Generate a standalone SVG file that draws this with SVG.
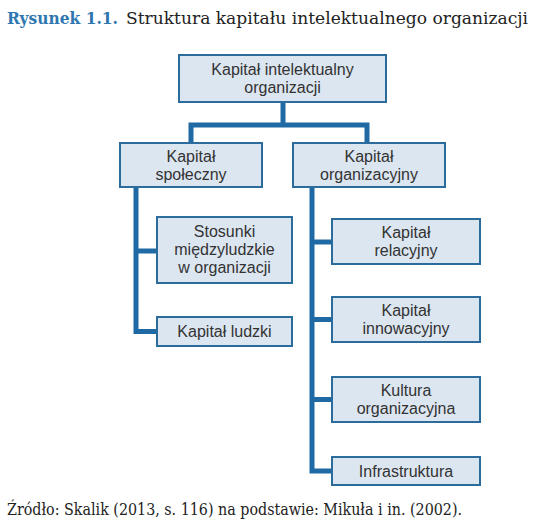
<svg xmlns="http://www.w3.org/2000/svg" width="538" height="527" viewBox="0 0 538 527">
<style>
.box{fill:#dce6f1;stroke:#2b6c9c;stroke-width:2}
.t{font-family:"Liberation Sans",Arial,sans-serif;font-size:16px;fill:#333;text-anchor:middle}
.c{fill:none;stroke:#1f6aa5;stroke-width:5;stroke-linejoin:miter}
.cap{font-family:"DejaVu Serif","Liberation Serif",serif;font-size:16px;fill:#222}
</style>
<rect width="538" height="527" fill="#fff"/>
<text x="7" y="24" class="cap"><tspan font-weight="bold" fill="#2e77b0" textLength="111" lengthAdjust="spacingAndGlyphs">Rysunek 1.1.</tspan></text>
<text x="126" y="24" class="cap" textLength="402" lengthAdjust="spacingAndGlyphs">Struktura kapitału intelektualnego organizacji</text>
<g id="connectors">
<path class="c" d="M283 102 V125"/>
<path class="c" d="M191 143 V125 H367 V143"/>
<path class="c" d="M136 187 V331.5 H157"/>
<path class="c" d="M136 251 H157"/>
<path class="c" d="M312 187 V471 H332"/>
<path class="c" d="M312 242 H332"/>
<path class="c" d="M312 319.5 H332"/>
<path class="c" d="M312 399.5 H332"/>
</g>
<g id="n-top"><rect class="box" x="179" y="55" width="207" height="47"/><text class="t" x="282.5" y="75">Kapitał intelektualny</text><text class="t" x="282.5" y="93">organizacji</text></g>
<g id="n-spoleczny"><rect class="box" x="120" y="143" width="142" height="44"/><text class="t" x="191" y="161.5">Kapitał</text><text class="t" x="191" y="179.5">społeczny</text></g>
<g id="n-organizacyjny"><rect class="box" x="293" y="143" width="152" height="44"/><text class="t" x="369" y="161.5">Kapitał</text><text class="t" x="369" y="179.5">organizacyjny</text></g>
<g id="n-stosunki"><rect class="box" x="157" y="217" width="135" height="66"/><text class="t" x="224.5" y="237">Stosunki</text><text class="t" x="224.5" y="255">międzyludzkie</text><text class="t" x="224.5" y="273">w organizacji</text></g>
<g id="n-ludzki"><rect class="box" x="157" y="317" width="135" height="29"/><text class="t" x="224.5" y="337">Kapitał ludzki</text></g>
<g id="n-relacyjny"><rect class="box" x="332" y="219" width="148" height="45"/><text class="t" x="406" y="238">Kapitał</text><text class="t" x="406" y="256">relacyjny</text></g>
<g id="n-innowacyjny"><rect class="box" x="332" y="297" width="148" height="45"/><text class="t" x="406" y="316">Kapitał</text><text class="t" x="406" y="334">innowacyjny</text></g>
<g id="n-kultura"><rect class="box" x="332" y="377" width="148" height="45"/><text class="t" x="406" y="396">Kultura</text><text class="t" x="406" y="414">organizacyjna</text></g>
<g id="n-infra"><rect class="box" x="332" y="457" width="148" height="28"/><text class="t" x="406" y="476.5">Infrastruktura</text></g>
<text x="7" y="515" class="cap" textLength="455" lengthAdjust="spacingAndGlyphs">Źródło: Skalik (2013, s. 116) na podstawie: Mikuła i in. (2002).</text>
</svg>
